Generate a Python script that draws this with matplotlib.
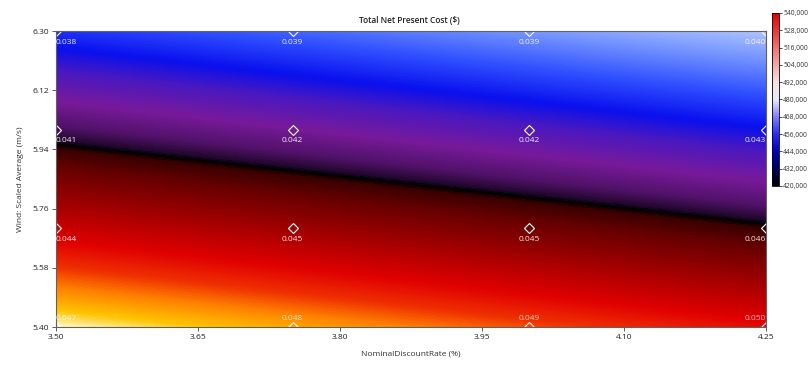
import numpy as np
import matplotlib
matplotlib.use("Agg")
import matplotlib.pyplot as plt
from matplotlib.colors import LinearSegmentedColormap, Normalize
from matplotlib.cm import ScalarMappable

plt.rcParams['font.family'] = ['Open Sans', 'DejaVu Sans']

# sensitivity grid
discount_rate = [3.50, 3.75, 4.00, 4.25]
wind_speed = [5.40, 5.70, 6.00, 6.30]

# total net present cost ($), rows = wind speed, cols = discount rate
npc = np.array([
    [540000, 531600, 523200, 514700],
    [508800, 500400, 492000, 483600],
    [477700, 469200, 460800, 452400],
    [446500, 438100, 429600, 421200],
])

# COE labels at the grid points
coe = [
    ["0.047", "0.048", "0.049", "0.050"],
    ["0.044", "0.045", "0.045", "0.046"],
    ["0.041", "0.042", "0.042", "0.043"],
    ["0.038", "0.039", "0.039", "0.040"],
]

x_ticks = [3.50, 3.65, 3.80, 3.95, 4.10, 4.25]
y_ticks = [5.40, 5.58, 5.76, 5.94, 6.12, 6.30]
cbar_ticks = list(range(420000, 540001, 12000))

# colour scale of the surface
field_cmap = LinearSegmentedColormap.from_list("field", [
    (0.000, "#b4c8ff"),
    (0.088, "#7090ff"),
    (0.175, "#3050ff"),
    (0.263, "#0a10ee"),
    (0.325, "#4a18c0"),
    (0.404, "#781a9a"),
    (0.470, "#501268"),
    (0.505, "#240830"),
    (0.518, "#000000"),
    (0.530, "#3a0000"),
    (0.579, "#660000"),
    (0.649, "#920000"),
    (0.772, "#e00000"),
    (0.842, "#f03000"),
    (0.895, "#ff8000"),
    (0.956, "#ffc400"),
    (1.000, "#fffad0"),
])
# colour scale shown on the legend bar
bar_cmap = LinearSegmentedColormap.from_list("bar", [
    (0.0, "#000000"),
    (0.1, "#000060"),
    (0.2, "#0000c0"),
    (0.3, "#2a2aff"),
    (0.4, "#8080ff"),
    (0.5, "#e8e8ff"),
    (0.6, "#f8e0e0"),
    (0.8, "#f07070"),
    (1.0, "#e00000"),
])
norm = Normalize(vmin=420000, vmax=540000)

fig = plt.figure(figsize=(8.1, 3.66), dpi=100)
ax = fig.add_axes([56 / 810, 39 / 366, 710 / 810, 296 / 366])

dx = discount_rate[1] - discount_rate[0]
dy = wind_speed[1] - wind_speed[0]
ax.imshow(npc, origin='lower', cmap=field_cmap, norm=norm, aspect='auto',
          interpolation='bilinear', interpolation_stage='data',
          extent=(discount_rate[0] - dx / 2, discount_rate[-1] + dx / 2,
                  wind_speed[0] - dy / 2, wind_speed[-1] + dy / 2))

gx, gy = np.meshgrid(discount_rate, wind_speed)
ax.plot(gx.ravel(), gy.ravel(), linestyle='none', marker='D', markersize=5,
        markerfacecolor='none', markeredgecolor='white', markeredgewidth=0.8)

for i, yv in enumerate(wind_speed):
    for j, xv in enumerate(discount_rate):
        ha = 'left' if j == 0 else ('right' if j == len(discount_rate) - 1 else 'center')
        # bottom row sits on the axis edge, so its labels go above the point
        off = 6 if i == 0 else -8
        ax.annotate(coe[i][j], (xv, yv), xytext=(0, off), textcoords='offset points',
                    ha=ha, va='center', color='white', fontsize=6, alpha=0.9 if i else 0.75,
                    annotation_clip=False)

ax.set_xlim(discount_rate[0], discount_rate[-1])
ax.set_ylim(wind_speed[0], wind_speed[-1])
ax.set_xticks(x_ticks)
ax.set_yticks(y_ticks)
ax.set_xticklabels([f"{v:.2f}" for v in x_ticks])
ax.set_yticklabels([f"{v:.2f}" for v in y_ticks])
ax.tick_params(labelsize=6, length=3, width=0.6, color='#404040', labelcolor='#202020', pad=2)
for s in ax.spines.values():
    s.set_color('#606060')
    s.set_linewidth(0.8)

ax.set_xlabel("NominalDiscountRate (%)", fontsize=6, color='#303030', labelpad=7)
ax.set_ylabel("Wind: Scaled Average (m/s)", fontsize=6, color='#303030', labelpad=6)
fig.text(0.506, 0.945, "Total Net Present Cost ($)", ha='center', va='center',
         fontsize=6, fontweight='semibold', color='#202020')

cax = fig.add_axes([772 / 810, (366 - 186) / 366, 7 / 810, 173 / 366])
cb = fig.colorbar(ScalarMappable(norm=norm, cmap=bar_cmap), cax=cax, ticks=cbar_ticks)
cb.ax.set_yticklabels([f"{v:,}" for v in cbar_ticks])
cb.ax.tick_params(labelsize=4.8, length=2, width=0.5, pad=1, labelcolor='#303030')
cb.outline.set_linewidth(0.6)

fig.savefig("out.png", dpi=100)
